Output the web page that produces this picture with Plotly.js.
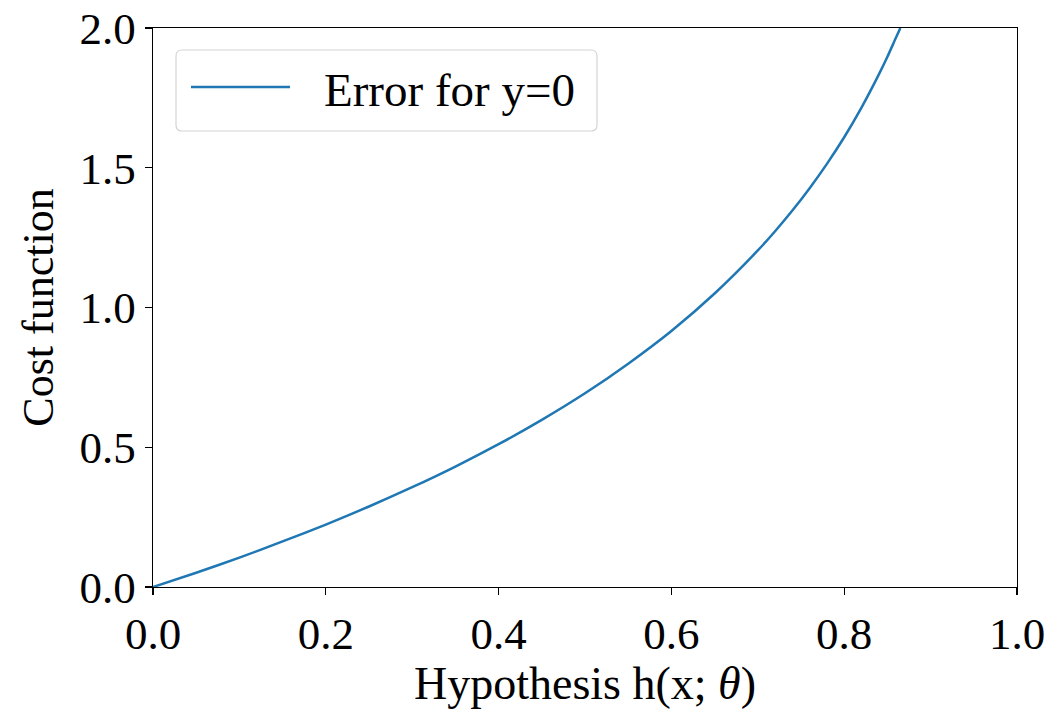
<!DOCTYPE html>
<html>
<head>
<meta charset="utf-8">
<script src="https://cdn.plot.ly/plotly-3.0.1.min.js"></script>
<style>html,body{margin:0;padding:0;background:#fff;}#chart{width:1057px;height:709px;}</style>
</head>
<body>
<div id="chart"></div>
<script>
// Values
const hypothesis = [0, 0.05, 0.1, 0.15, 0.2, 0.25, 0.3, 0.35, 0.4, 0.45, 0.5, 0.55, 0.6, 0.65, 0.7, 0.72, 0.74, 0.76, 0.78, 0.8, 0.82, 0.84, 0.85, 0.86, 0.865];
const cost = [0, 0.051, 0.105, 0.163, 0.223, 0.288, 0.357, 0.431, 0.511, 0.598, 0.693, 0.799, 0.916, 1.050, 1.204, 1.273, 1.347, 1.427, 1.514, 1.609, 1.715, 1.833, 1.897, 1.966, 2.0];
const seriesName = 'Error for y=0';
const xTicks = [0, 0.2, 0.4, 0.6, 0.8, 1.0];
const xTickLabels = ['0.0', '0.2', '0.4', '0.6', '0.8', '1.0'];
const yTicks = [0, 0.5, 1.0, 1.5, 2.0];
const yTickLabels = ['0.0', '0.5', '1.0', '1.5', '2.0'];

const font = 'Liberation Serif, Times New Roman, serif';
const lineColor = '#1f77b4';

// plot area in pixels (for placing the legend box in paper coordinates)
const W = 1057, H = 709, ML = 153, MR = 40, MT = 28, MB = 122;
const PW = W - ML - MR, PH = H - MT - MB;
const px = v => (v - ML) / PW;
const py = v => (H - MB - v) / PH;

// legend box geometry (pixels)
const bx0 = 176, bx1 = 597, by0 = 50, by1 = 131, r = 6;
const rx = r / PW, ry = r / PH;
const X0 = px(bx0), X1 = px(bx1), Yt = py(by0), Yb = py(by1);
const boxPath = `M ${X0 + rx},${Yt} L ${X1 - rx},${Yt} Q ${X1},${Yt} ${X1},${Yt - ry} ` +
  `L ${X1},${Yb + ry} Q ${X1},${Yb} ${X1 - rx},${Yb} L ${X0 + rx},${Yb} ` +
  `Q ${X0},${Yb} ${X0},${Yb + ry} L ${X0},${Yt - ry} Q ${X0},${Yt} ${X0 + rx},${Yt} Z`;

const trace = {
  x: hypothesis, y: cost, type: 'scatter', mode: 'lines', name: seriesName,
  line: {color: lineColor, width: 2.5, shape: 'spline', smoothing: 0.6}, showlegend: false, cliponaxis: true
};
const layout = {
  width: W, height: H,
  margin: {l: ML, r: MR, t: MT, b: MB},
  paper_bgcolor: '#fff', plot_bgcolor: '#fff',
  font: {family: font, size: 45, color: '#000'},
  showlegend: false,
  shapes: [
    {type: 'path', xref: 'paper', yref: 'paper', path: boxPath,
      line: {color: '#d4d4d4', width: 1.2}, fillcolor: 'rgba(255,255,255,0.85)', layer: 'above'},
    {type: 'line', xref: 'paper', yref: 'paper', x0: px(191), x1: px(290), y0: py(87), y1: py(87),
      line: {color: lineColor, width: 2.5}, layer: 'above'}
  ],
  annotations: [
    {text: seriesName, xref: 'paper', yref: 'paper', x: px(322), y: py(90),
      xanchor: 'left', yanchor: 'middle', showarrow: false,
      font: {family: font, size: 47, color: '#000'}}
  ],
  xaxis: {range: [0, 1], tickvals: xTicks, ticktext: xTickLabels,
    ticks: 'outside', ticklen: 7, tickwidth: 1.2, tickcolor: '#000',
    showline: true, linecolor: '#000', linewidth: 1.2, mirror: true,
    showgrid: false, zeroline: false,
    title: {text: 'Hypothesis h(x; <i>θ</i>)', font: {family: font, size: 46}, standoff: 10}},
  yaxis: {range: [0, 2], tickvals: yTicks, ticktext: yTickLabels,
    ticks: 'outside', ticklen: 7, tickwidth: 1.2, tickcolor: '#000',
    showline: true, linecolor: '#000', linewidth: 1.2, mirror: true,
    showgrid: false, zeroline: false,
    title: {text: 'Cost function', font: {family: font, size: 44}, standoff: 12}}
};
Plotly.newPlot('chart', [trace], layout, {staticPlot: true, displayModeBar: false});
</script>
</body>
</html>
